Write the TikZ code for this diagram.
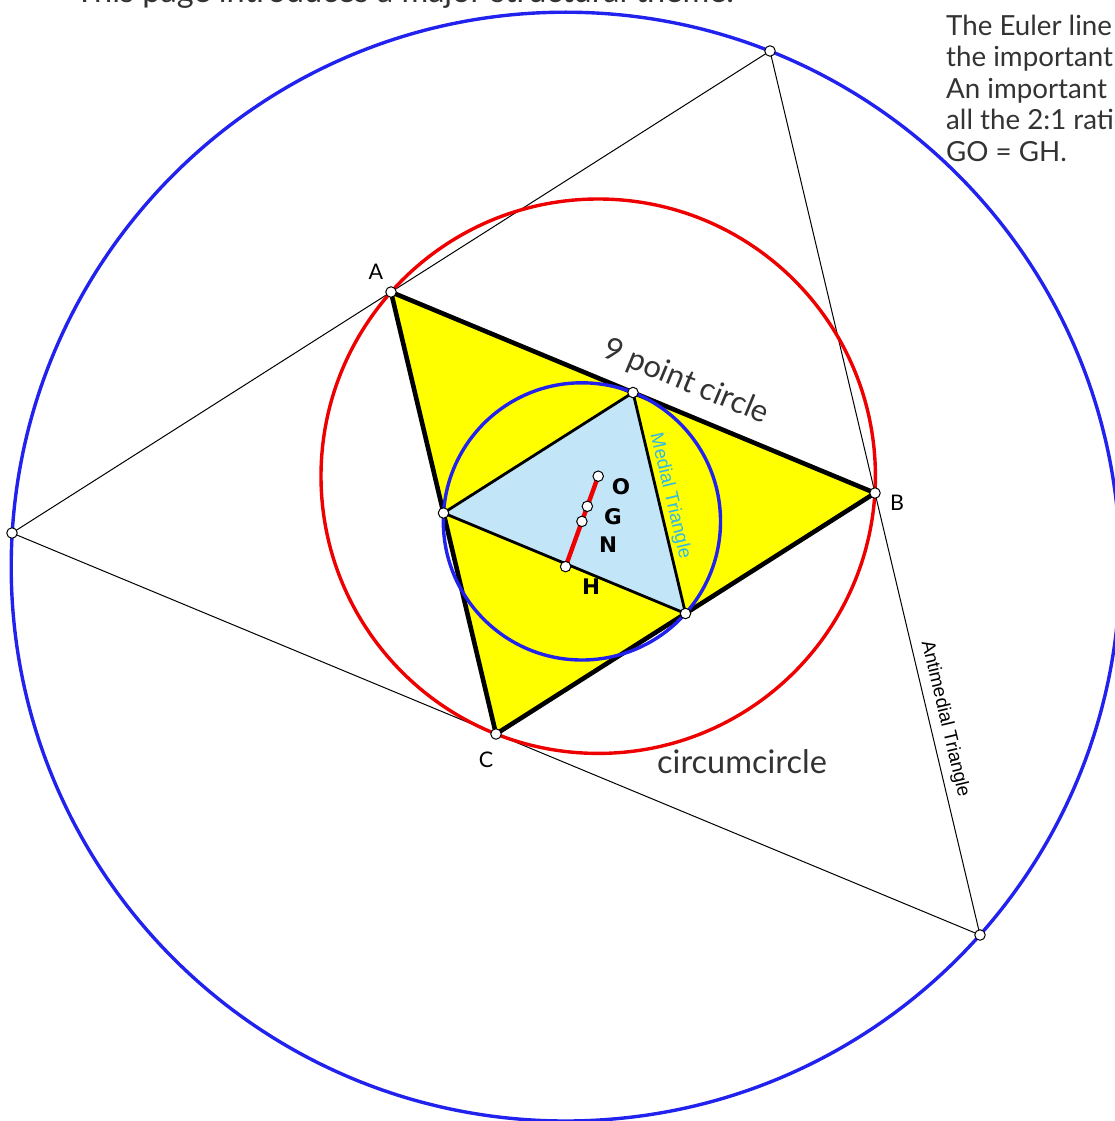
\documentclass[tikz,border=0pt]{standalone}
\usepackage{fontspec}
\setmainfont{Lato}
\newfontfamily\arialf{Liberation Sans}
\newfontfamily\dejav{DejaVu Sans}
\definecolor{txtgray}{HTML}{333333}
\definecolor{medcyan}{HTML}{2FB8EA}
\definecolor{lightblue}{HTML}{C2E5F7}
\definecolor{circblue}{HTML}{2222EE}
\definecolor{circred}{HTML}{EE0000}
\definecolor{triyellow}{HTML}{FFFF00}
\begin{document}
\begin{tikzpicture}[x=1pt,y=-1pt,
  marker/.style={circle,draw=black,fill=white,line width=1pt,inner sep=0pt,minimum size=10.5pt},
  thinline/.style={draw=black,line width=1pt},
  mainedge/.style={draw=black,line width=4.6pt,line join=miter},
  mededge/.style={draw=black,line width=2.8pt,line join=round},
  bluecirc/.style={draw=circblue,line width=3.4pt},
  redcirc/.style={draw=circred,line width=3.4pt},
  euler/.style={draw=circred,line width=4.4pt},
  biglabel/.style={text=txtgray,font=\fontsize{27}{30}\selectfont,inner sep=0pt},
  bodytext/.style={text=txtgray,font=\fontsize{27.7}{30}\selectfont,anchor=base west,inner sep=0pt},
  vlabel/.style={text=black,font=\fontsize{21.5}{24}\selectfont,inner sep=0pt},
  clabel/.style={text=black,font=\dejav\bfseries\fontsize{21.5}{24}\selectfont,inner sep=0pt},
  sidelabel/.style={font=\arialf\fontsize{18.8}{21}\selectfont,inner sep=0pt}]
\useasboundingbox (0,0) rectangle (1114,1121);
% vertices
\coordinate (A) at (391,292);
\coordinate (B) at (875,493);
\coordinate (C) at (496,734);
\coordinate (Mab) at (633,392.5);
\coordinate (Mac) at (443.5,513);
\coordinate (Mbc) at (685.5,613.5);
\coordinate (Ap) at (980,935);
\coordinate (Bp) at (12,533);
\coordinate (Cp) at (770,51);
\coordinate (O) at (598.2,476.2);
\coordinate (G) at (587.33,506.33);
\coordinate (N) at (581.9,521.4);
\coordinate (H) at (565.6,566.6);
% texts outside
\node[bodytext,font=\fontsize{32.5}{34}\selectfont] (ttop) at (75,3) {This page introduces a major structural theme.};
\node[bodytext] (t1) at (946,36) {The Euler line};
\node[bodytext] (t2) at (946,67) {the important};
\node[bodytext] (t3) at (946,99) {An important};
\node[bodytext] (t4) at (946,130) {all the 2:1 ratio};
\node[bodytext] (t5) at (946,161) {GO = GH.};
% big circle (circumcircle of antimedial triangle)
\draw[bluecirc] (H) circle (554.4pt);
% antimedial triangle
\draw[thinline] (Ap) -- (Bp) -- (Cp) -- cycle;
% main triangle
\fill[triyellow] (A) -- (B) -- (C) -- cycle;
\fill[lightblue] (Mab) -- (Mbc) -- (Mac) -- cycle;
\draw[mededge] (Mab) -- (Mbc) -- (Mac) -- cycle;
\draw[mainedge] (A) -- (B) -- (C) -- cycle;
% circles
\draw[redcirc] (O) circle (277.2pt);
\draw[bluecirc] (N) circle (138.6pt);
% Euler line
\draw[euler] (O) -- (H);
% markers
\foreach \p in {A,B,C,Mab,Mac,Mbc,Ap,Bp,Cp,O,G,N,H}
  \node[marker] (m\p) at (\p) {};
% labels
\node[vlabel] (lA) at (376,272) {A};
\node[vlabel] (lB) at (897,503) {B};
\node[vlabel] (lC) at (486,760) {C};
\node[clabel] (lO) at (621,487) {O};
\node[clabel] (lG) at (613,517) {G};
\node[clabel] (lN) at (608,545) {N};
\node[clabel] (lH) at (591,587) {H};
\node[biglabel,font=\fontsize{31}{34}\selectfont,rotate=-22.5] (t9) at (686,382) {9 point circle};
\node[biglabel,font=\fontsize{32.5}{35}\selectfont] (tcc) at (742,762) {circumcircle};
\node[sidelabel,text=medcyan,rotate=-76.6] (tmed) at (670,496) {Medial Triangle};
\node[sidelabel,text=black,rotate=-76.6] (tanti) at (945,719) {Antimedial Triangle};
\end{tikzpicture}
\end{document}
